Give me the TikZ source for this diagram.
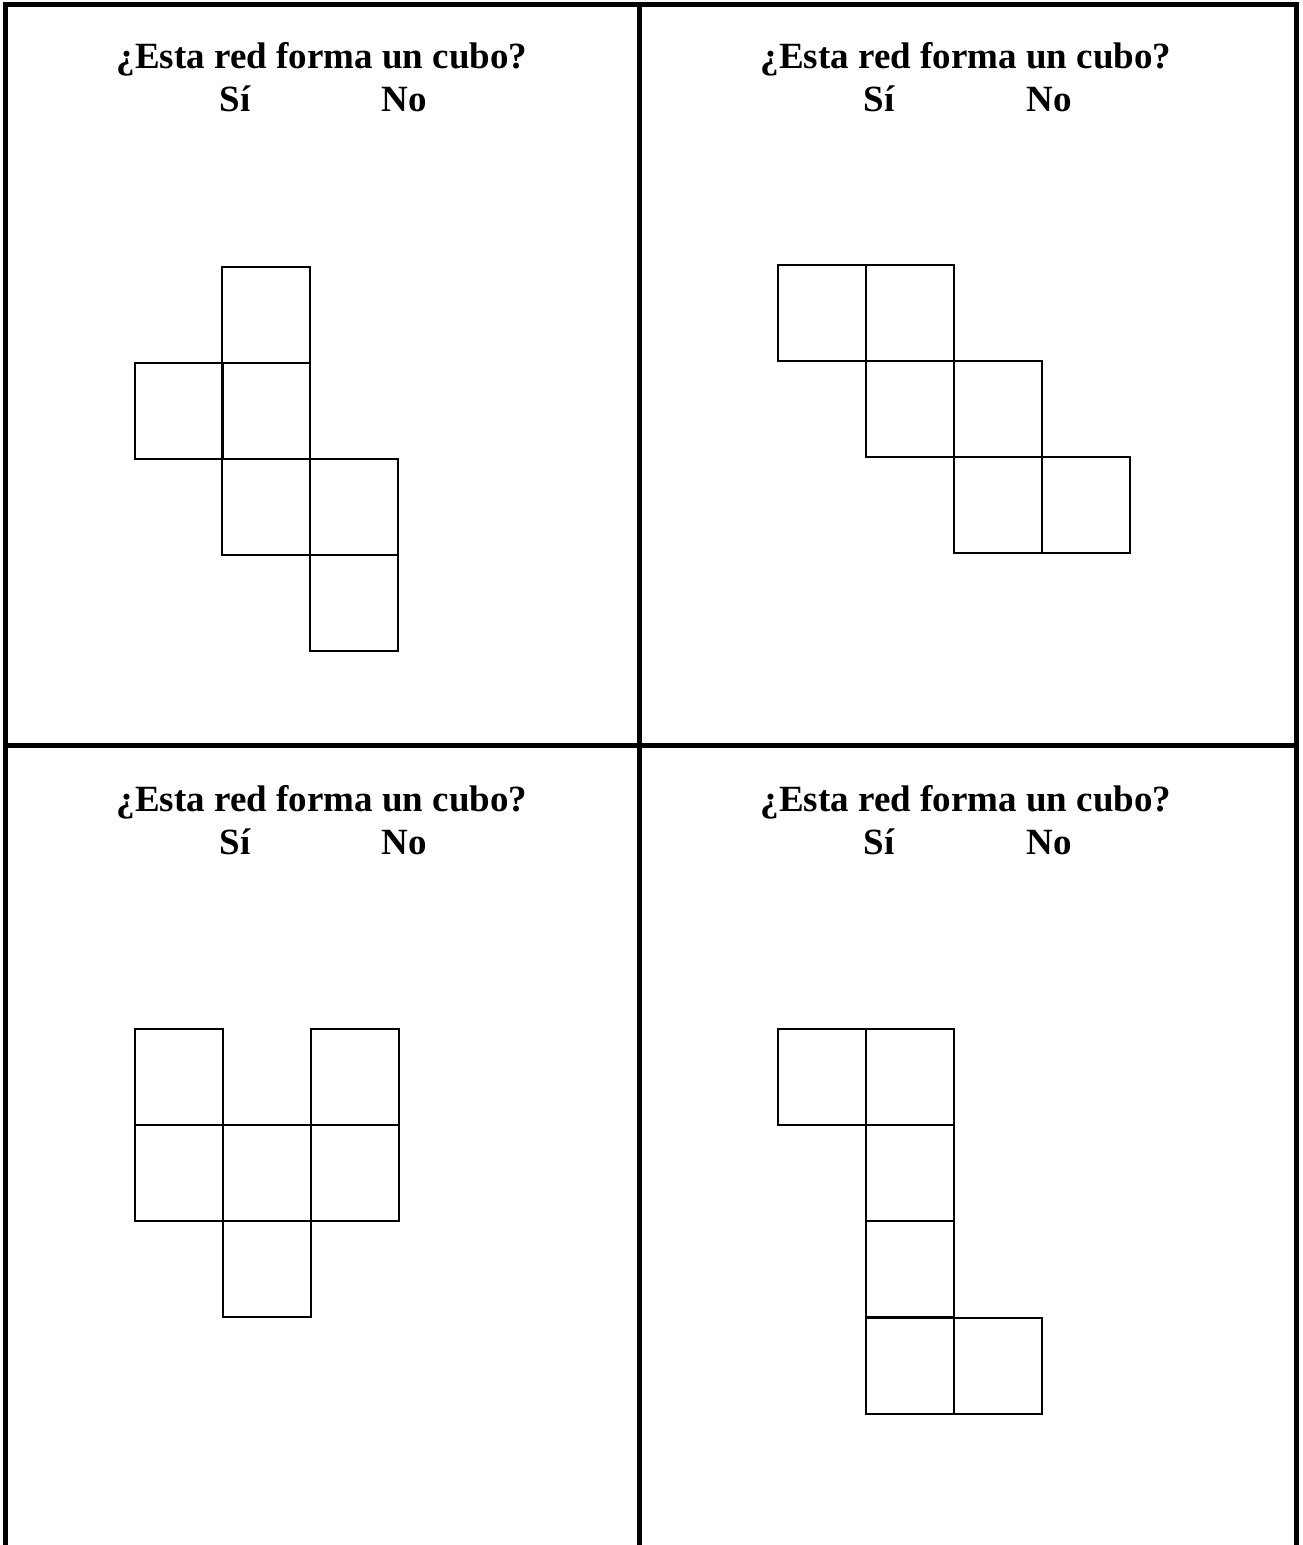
\documentclass[tikz,border=0pt]{standalone}
\usepackage{fontspec}
\setmainfont{Liberation Serif}
\tikzset{
  frame/.style={line width=5pt, line cap=butt},
  sq/.style={draw, line width=2pt, line join=miter},
  ttl/.style={anchor=base, inner sep=0pt, font=\fontsize{37}{44}\selectfont\bfseries},
}
\newcommand{\cell}[2]{\draw[sq] (#1,#2) rectangle ++(88,96);}
\begin{document}
\begin{tikzpicture}[x=1pt,y=-1pt]
\useasboundingbox (0,0) rectangle (1303,1545);
\fill[white] (0,0) rectangle (1303,1545);
% frame
\coordinate (tl) at (2.5,4.5);
\coordinate (tr) at (1298.5,4.5);
\coordinate (lb) at (5,1545);
\coordinate (lt) at (5,2);
\coordinate (rt) at (1296,2);
\coordinate (rb) at (1296,1545);
\coordinate (mt) at (639,2);
\coordinate (mb) at (639,1545);
\coordinate (ml) at (5,745);
\coordinate (mr) at (1296,745);
\draw[frame] (tl) -- (tr);
\draw[frame] (lt) -- (lb);
\draw[frame] (rt) -- (rb);
\draw[frame] (mt) -- (mb);
\draw[frame] (ml) -- (mr);
% titles
\node[ttl] (t1) at (322,68.5) {¿Esta red forma un cubo?};
\node[ttl] (s1) at (235,111) {Sí};
\node[ttl] (n1) at (404,111) {No};
\node[ttl] (t2) at (966,68.5) {¿Esta red forma un cubo?};
\node[ttl] (s2) at (879,111) {Sí};
\node[ttl] (n2) at (1049,111) {No};
\node[ttl] (t3) at (322,811.5) {¿Esta red forma un cubo?};
\node[ttl] (s3) at (235,854) {Sí};
\node[ttl] (n3) at (404,854) {No};
\node[ttl] (t4) at (966,811.5) {¿Esta red forma un cubo?};
\node[ttl] (s4) at (879,854) {Sí};
\node[ttl] (n4) at (1049,854) {No};
% net 1
\cell{222}{267}\cell{135}{363}\cell{222}{363}\cell{222}{459}\cell{310}{459}\cell{310}{555}
% net 2
\cell{778}{265}\cell{866}{265}\cell{866}{361}\cell{954}{361}\cell{954}{457}\cell{1042}{457}
% net 3
\cell{135}{1029}\cell{311}{1029}\cell{135}{1125}\cell{223}{1125}\cell{311}{1125}\cell{223}{1221}
% net 4
\cell{778}{1029}\cell{866}{1029}\cell{866}{1125}\cell{866}{1221}\cell{866}{1318}\cell{954}{1318}
\end{tikzpicture}
\end{document}
